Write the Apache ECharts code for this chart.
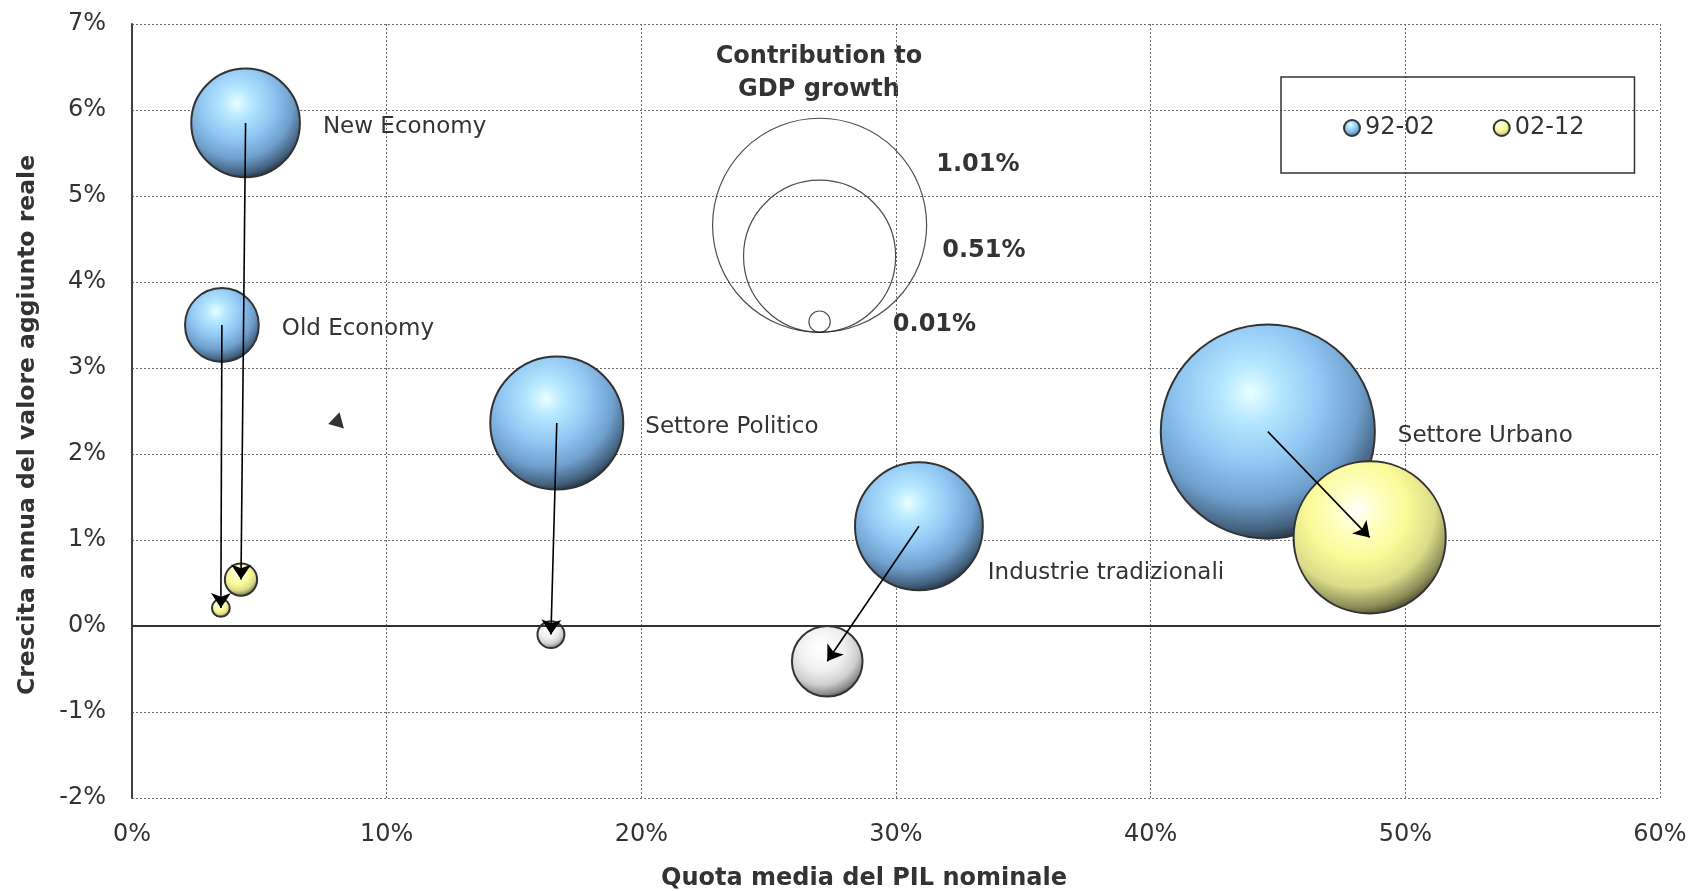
<!DOCTYPE html>
<html>
<head>
<meta charset="utf-8">
<script src="https://cdn.jsdelivr.net/npm/echarts@6/dist/echarts.min.js"></script>
<style>
  html, body { margin: 0; padding: 0; background: #fff; }
  #chart { width: 1690px; height: 891px; }
</style>
</head>
<body>
<div id="chart"></div>
<script>
// settori e valori (quote e crescite in %)
const categories = ["New Economy", "Old Economy", "Settore Politico", "Industrie tradizionali", "Settore Urbano"];
const share9202 = [4.46, 3.53, 16.68, 30.9, 44.6];
const growth9202 = [5.85, 3.5, 2.36, 1.16, 2.26];
const contrib9202 = [0.26, 0.12, 0.39, 0.36, 1.01];
const share0212 = [4.28, 3.49, 16.45, 27.3, 48.6];
const growth0212 = [0.54, 0.21, -0.1, -0.41, 1.03];
const contrib0212 = [0.023, 0.007, -0.016, -0.11, 0.51];

// legenda dimensioni bolle
const sizeKeyValues = [1.01, 0.51, 0.01];
const sizeKeyLabels = ["1.01%", "0.51%", "0.01%"];
const sizeKeyAnchor = [27.0, 3.415];

// punta di freccia isolata
const strayArrowHead = [7.97, 2.37];

const seriesNames = ["92-02", "02-12"];

const FONT = '"DejaVu Sans", Verdana, sans-serif';
const TXT = "#333";

const sphere = (c0, c1, c2, c3, c4, c5) => ({
  type: "radial", x: 0.42, y: 0.32, r: 0.72,
  colorStops: [
    { offset: 0, color: c0 },
    { offset: 0.18, color: c1 },
    { offset: 0.45, color: c2 },
    { offset: 0.7, color: c3 },
    { offset: 0.88, color: c4 },
    { offset: 1, color: c5 },
  ],
});
const blue = sphere("#eaffff", "#b6e8ff", "#92c8f4", "#6f9fcd", "#44627f", "#16222e");
const yellow = sphere("#ffffff", "#ffffc8", "#fafa98", "#dcdc8a", "#8c8c58", "#33331e");
const white = sphere("#ffffff", "#fbfbfb", "#eeeeee", "#cfcfcf", "#8a8a8a", "#3a3a3a");

// diametro proporzionale alla radice del contributo (come Excel)
const bubbleDiam = (c) => 213 * Math.sqrt(Math.abs(c));

const chart = echarts.init(document.getElementById("chart"));

const labelOffsets = [[0, 4], [0, 4], [0, 4], [0, 47], [0, 4]];
const labelDist = [22, 22, 21, 4, 22];

const data9202 = categories.map((name, i) => ({
  name,
  value: [share9202[i], growth9202[i], contrib9202[i]],
  label: {
    show: true,
    position: "right",
    distance: labelDist[i],
    offset: labelOffsets[i],
    formatter: name,
  },
}));

const data0212 = categories.map((name, i) => ({
  name,
  value: [share0212[i], growth0212[i], contrib0212[i]],
  itemStyle: contrib0212[i] < 0 ? { color: white } : undefined,
}));

const arrows = categories.map((name, i) => ({
  coords: [[share9202[i], growth9202[i]], [share0212[i], growth0212[i]]],
}));

const keyOffsets = [[4, -61], [41, -5], [57, 3]];
const sizeKeyData = sizeKeyValues.map((v, i) => {
  const d = bubbleDiam(v);
  return {
    value: [sizeKeyAnchor[0], sizeKeyAnchor[1], v],
    symbolSize: d,
    symbolOffset: [0, -d / 2],
    label: {
      show: true,
      position: "right",
      distance: 5,
      offset: keyOffsets[i],
      formatter: sizeKeyLabels[i],
      color: TXT,
      opacity: 1,
      fontSize: 24,
      fontWeight: "bold",
      fontFamily: FONT,
    },
  };
});

const option = {
  animation: false,
  textStyle: { fontFamily: FONT },
  grid: { left: 132, right: 30, top: 24, bottom: 93 },
  xAxis: {
    type: "value",
    min: 0,
    max: 60,
    interval: 10,
    axisLine: { show: false, onZero: false },
    axisTick: { show: false },
    axisLabel: { color: TXT, fontSize: 24, fontFamily: FONT, margin: 25, formatter: "{value}%" },
    splitLine: { show: true, lineStyle: { color: "#6a6a6a", width: 1, type: [2, 2] } },
  },
  yAxis: {
    type: "value",
    min: -2,
    max: 7,
    interval: 1,
    axisLine: { show: true, onZero: false, lineStyle: { color: "#404040", width: 2 } },
    axisTick: { show: false },
    axisLabel: { color: TXT, fontSize: 24, fontFamily: FONT, margin: 26, padding: [4, 0, 0, 0], formatter: "{value}%" },
    splitLine: { show: true, lineStyle: { color: "#6a6a6a", width: 1, type: [2, 2] } },
  },
  legend: {
    data: seriesNames,
    left: 1281,
    top: 77,
    orient: "horizontal",
    icon: "circle",
    itemWidth: 16,
    itemHeight: 16,
    itemGap: 58,
    padding: [39, 50, 33, 62],
    borderColor: "#333",
    borderWidth: 1.5,
    textStyle: { color: TXT, fontSize: 24, fontFamily: FONT },
  },
  graphic: [
    {
      type: "text", x: 864, y: 879,
      style: { text: "Quota media del PIL nominale", font: "bold 24px " + FONT, fill: TXT, align: "center", verticalAlign: "middle" },
    },
    {
      type: "text", x: 28, y: 425, rotation: Math.PI / 2,
      style: { text: "Crescita annua del valore aggiunto reale", font: "bold 23.5px " + FONT, fill: TXT, align: "center", verticalAlign: "middle" },
    },
    {
      type: "text", x: 819, y: 73,
      style: { text: "Contribution to\nGDP growth", font: "bold 24px " + FONT, fill: TXT, align: "center", verticalAlign: "middle", lineHeight: 33 },
    },
  ],
  series: [
    {
      // linea dello zero
      type: "scatter",
      data: [],
      z: 1,
      markLine: {
        silent: true,
        symbol: "none",
        label: { show: false },
        lineStyle: { color: "#333", width: 2.2, type: "solid" },
        data: [{ yAxis: 0 }],
      },
    },
    {
      name: "sizeKey",
      type: "scatter",
      z: 2,
      data: sizeKeyData,
      itemStyle: { color: "rgba(255,255,255,0)", borderColor: "#222", borderWidth: 1.2 },
    },
    {
      name: seriesNames[0],
      type: "scatter",
      z: 3,
      data: data9202,
      symbolSize: (v) => bubbleDiam(v[2]),
      itemStyle: { color: blue, borderColor: "#333", borderWidth: 2, opacity: 1 },
      label: { color: TXT, fontSize: 23, fontFamily: FONT },
    },
    {
      name: seriesNames[1],
      type: "scatter",
      z: 4,
      data: data0212,
      symbolSize: (v) => bubbleDiam(v[2]),
      itemStyle: { color: yellow, borderColor: "#333", borderWidth: 2, opacity: 1 },
    },
    {
      type: "lines",
      coordinateSystem: "cartesian2d",
      z: 5,
      data: arrows,
      symbol: ["none", "arrow"],
      symbolSize: 15,
      lineStyle: { color: "#000", width: 1.6, opacity: 1 },
    },
    {
      type: "scatter",
      z: 5,
      data: [strayArrowHead],
      symbol: "triangle",
      symbolSize: [17, 14],
      symbolRotate: 105,
      itemStyle: { color: "#000" },
    },
  ],
};

chart.setOption(option);
window.addEventListener("resize", () => chart.resize());
</script>
</body>
</html>
